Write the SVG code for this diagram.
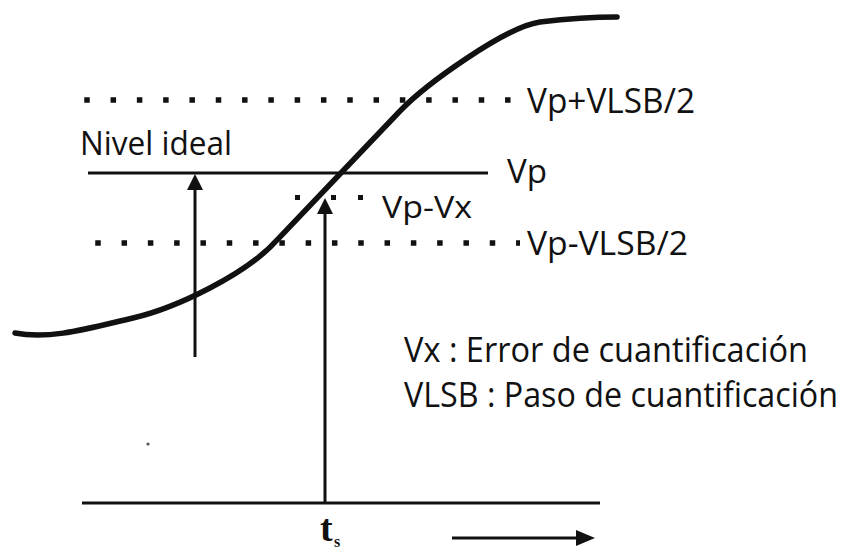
<svg xmlns="http://www.w3.org/2000/svg" width="847" height="551" viewBox="0 0 847 551">
<style>
.lbl{font-family:"Open Sans","Liberation Sans",sans-serif;fill:#111;}
.ln{stroke:#111;stroke-width:3;fill:none;}
.dots{stroke:#111;stroke-width:5.5;fill:none;stroke-dasharray:5.5 20.8;}
.head{fill:#111;}
</style>
<rect width="847" height="551" fill="#fff"/>
<g id="curve">
<path d="M15,333 C50,340 90,328 133,318 C176,308 247,274 277,240 L400,111 C425,85 505,27 540,22 C565,19 595,17 617,17" stroke="#111" stroke-width="5.5" fill="none" stroke-linecap="round"/>
</g>
<g id="level-upper">
<line class="dots" x1="84.25" y1="100" x2="511" y2="100"/>
<text class="lbl" x="527" y="113" font-size="35" textLength="168" lengthAdjust="spacingAndGlyphs">Vp+VLSB/2</text>
</g>
<g id="level-vp">
<line class="ln" x1="88" y1="173" x2="488" y2="173"/>
<text class="lbl" x="507" y="183" font-size="32" textLength="40" lengthAdjust="spacingAndGlyphs">Vp</text>
</g>
<g id="level-vpvx">
<rect x="295" y="195" width="5" height="5" fill="#111"/>
<rect x="331" y="195" width="5" height="5" fill="#111"/>
<rect x="358" y="195" width="5" height="5" fill="#111"/>
<text class="lbl" x="382" y="218" font-size="31" textLength="90" lengthAdjust="spacingAndGlyphs">Vp-Vx</text>
</g>
<g id="level-lower">
<line class="dots" x1="95.25" y1="243" x2="520" y2="243"/>
<text class="lbl" x="527" y="255" font-size="33" textLength="161" lengthAdjust="spacingAndGlyphs">Vp-VLSB/2</text>
</g>
<g id="nivel-ideal">
<text class="lbl" x="80" y="155" font-size="33" textLength="152" lengthAdjust="spacingAndGlyphs">Nivel ideal</text>
</g>
<g id="legend">
<text class="lbl" x="404" y="362" font-size="34" textLength="404" lengthAdjust="spacingAndGlyphs">Vx : Error de cuantificación</text>
<text class="lbl" x="404" y="407" font-size="34" textLength="434" lengthAdjust="spacingAndGlyphs">VLSB : Paso de cuantificación</text>
</g>
<g id="time-axis">
<line class="ln" x1="82" y1="503" x2="600" y2="503"/>
<text x="320" y="541" font-family="'Liberation Serif',serif" font-weight="bold" font-size="38" fill="#111">t</text>
<text x="334" y="547" font-family="'Liberation Serif',serif" font-weight="bold" font-size="16" fill="#111">s</text>
<circle cx="148" cy="444" r="1.6" fill="#555"/>
</g>
<g id="connectors">
<line class="ln" x1="195" y1="357" x2="195" y2="186"/>
<polygon class="head" points="195,174 187,190 203,190"/>
<line class="ln" x1="325" y1="503" x2="325" y2="210"/>
<polygon class="head" points="325,198 317,214 333,214"/>
<line class="ln" x1="452" y1="538" x2="578" y2="538"/>
<polygon class="head" points="595,538 576,530 576,546"/>
</g>
</svg>
